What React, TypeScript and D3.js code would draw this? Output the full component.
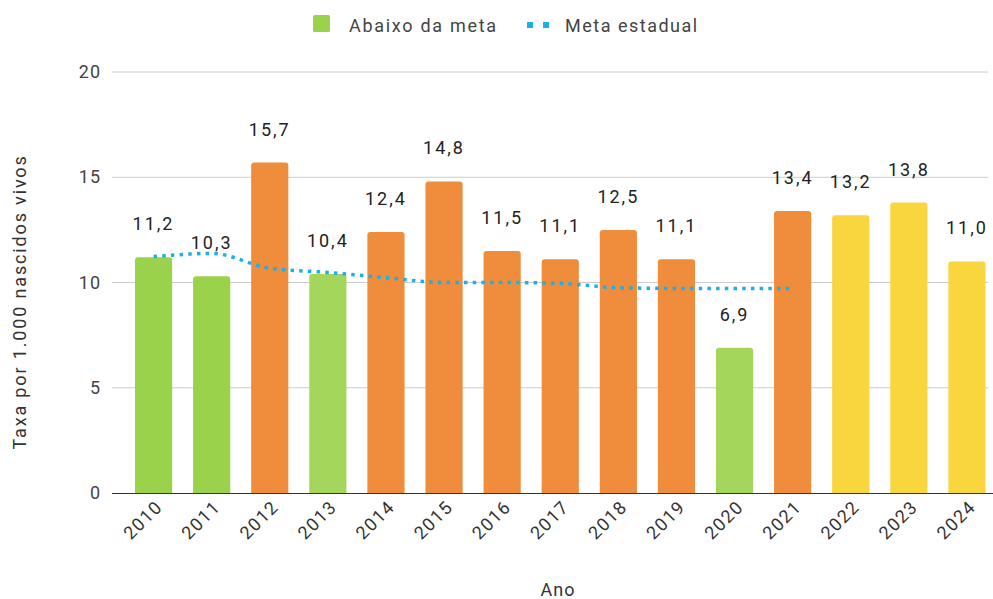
import React from "react";
import * as d3 from "d3";

const years = ["2010","2011","2012","2013","2014","2015","2016","2017","2018","2019","2020","2021","2022","2023","2024"];
const values = [11.2,10.3,15.7,10.4,12.4,14.8,11.5,11.1,12.5,11.1,6.9,13.4,13.2,13.8,11.0];
const labels = ["11,2","10,3","15,7","10,4","12,4","14,8","11,5","11,1","12,5","11,1","6,9","13,4","13,2","13,8","11,0"];
const categories = ["green","green","orange","green2","orange","orange","orange","orange","orange","orange","green2","orange","yellow","yellow","yellow"];
const metaYears = ["2010","2011","2012","2013","2014","2015","2016","2017","2018","2019","2020","2021"];
const metaValues = [11.23,11.38,10.68,10.48,10.23,10.0,10.0,9.96,9.75,9.72,9.72,9.72];
const yTicks = [0,5,10,15,20];

const colorMap: Record<string,string> = {
  green: "#9bd24b",
  green2: "#a5d65c",
  orange: "#f08d3d",
  yellow: "#f9d53e",
};

const W = 993, H = 599;
const FONT = "Roboto, 'Noto Sans', sans-serif";

export default function App() {
  const x = d3.scaleBand<string>().domain(years).range([124.5, 996]).paddingInner(0.36).paddingOuter(0.18);
  const y = d3.scaleLinear().domain([0, 20]).range([493, 72]);
  const bw = x.bandwidth();
  const line = d3.line<number>()
    .x((_, i) => (x(metaYears[i]) as number) + bw / 2)
    .y(d => y(d))
    .curve(d3.curveMonotoneX);
  const r = 3;
  const barPath = (x0: number, y0: number, w: number, h: number) =>
    `M${x0},${y0 + h}V${y0 + r}Q${x0},${y0} ${x0 + r},${y0}H${x0 + w - r}Q${x0 + w},${y0} ${x0 + w},${y0 + r}V${y0 + h}Z`;

  return (
    <div style={{ position: "absolute", left: 0, top: 0 }}>
      <svg width={W} height={H} style={{ display: "block", background: "#fff" }} fontFamily={FONT}>
        {/* legend */}
        <rect x={313} y={15} width={17} height={17} fill={colorMap.green} rx={1.5} />
        <text x={349} y={32} fontSize={18} fill="#444" letterSpacing={1.7}>Abaixo da meta</text>
        <rect x={527} y={22} width={6} height={6} fill="#1ab0ea" />
        <rect x={543} y={22} width={6} height={6} fill="#1ab0ea" />
        <text x={565} y={32} fontSize={18} fill="#444" letterSpacing={1.5}>Meta estadual</text>

        {/* grid */}
        {yTicks.map(t => (
          <g key={t}>
            {t !== 0 && <line x1={112} x2={988} y1={y(t)} y2={y(t)} stroke="#cccccc" strokeWidth={1} />}
            <text x={101} y={y(t) + 6} fontSize={18} fill="#444" textAnchor="end" letterSpacing={1}>{t}</text>
          </g>
        ))}

        {/* bars */}
        {values.map((v, i) => {
          const x0 = x(years[i]) as number;
          const y0 = y(v);
          return (
            <g key={years[i]}>
              <path d={barPath(x0, y0, bw, y(0) - y0)} fill={colorMap[categories[i]]} />
              <text x={x0 + bw / 2} y={y0 - 27} fontSize={18} fill="#222" textAnchor="middle" letterSpacing={2}>{labels[i]}</text>
            </g>
          );
        })}

        <line x1={112} x2={993} y1={y(0) + 0.5} y2={y(0) + 0.5} stroke="#333" strokeWidth={1} />

        {/* meta line */}
        <path d={line(metaValues) || ""} fill="none" stroke="#1ab0ea" strokeWidth={3.5} strokeDasharray="3.5 5.2" />

        {/* x labels */}
        {years.map(yr => {
          const cx = (x(yr) as number) + bw / 2;
          return (
            <text key={yr} transform={`translate(${cx + 10},${508}) rotate(-45)`} fontSize={18} fill="#333" textAnchor="end" letterSpacing={1.4}>{yr}</text>
          );
        })}

        <text x={558} y={596} fontSize={18} fill="#333" textAnchor="middle" letterSpacing={1}>Ano</text>
        <text transform={`translate(26,302) rotate(-90)`} fontSize={18} fill="#333" textAnchor="middle" letterSpacing={1.85}>Taxa por 1.000 nascidos vivos</text>
      </svg>
    </div>
  );
}
